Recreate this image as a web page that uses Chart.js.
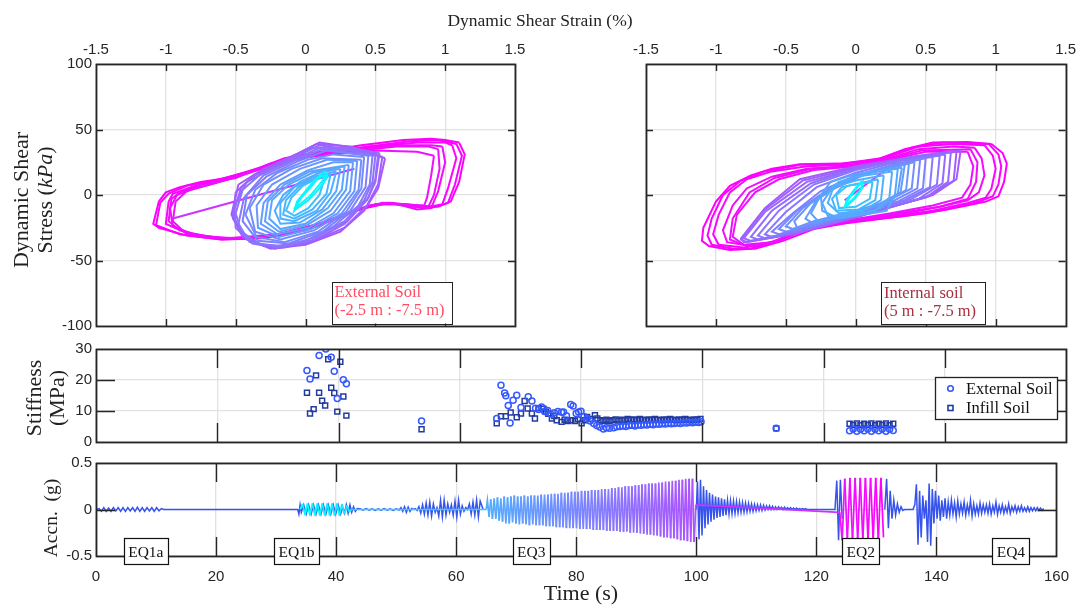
<!DOCTYPE html>
<html><head><meta charset="utf-8">
<script src="https://cdn.jsdelivr.net/npm/chart.js@4.4.1/dist/chart.umd.min.js"></script>
<style>
html,body{margin:0;padding:0;background:#fff;}
#wrap{position:relative;width:1081px;height:608px;overflow:hidden;background:#fff;}
canvas{position:absolute;left:0;}
</style></head><body><div id="wrap">
<canvas id="cTopL" width="1081" height="345" style="top:0"></canvas>
<canvas id="cTopR" width="1081" height="345" style="top:0"></canvas>
<canvas id="cMid" width="1081" height="120" style="top:335px"></canvas>
<canvas id="cBot" width="1081" height="158" style="top:450px"></canvas>
</div>
<script>
// ---------------- DATA ----------------
// tick labels
const strainTicks = [-1.5,-1,-0.5,0,0.5,1,1.5];
const stressTicks = [-100,-50,0,50,100];
const timeTicks = [0,20,40,60,80,100,120,140,160];
const stiffTicks = [0,10,20,30];
const accTicks = [-0.5,0,0.5];

// Hysteresis loops: time (s) of each loop (sets colour) and loop vertices [strain %, stress kPa, ...]
const extLoopTimes = [36,39,58,62,64,66,68,70,72,74,77,79,82,85,88,90,93,96,98,112,125,126,127,129,130,131];
const extLoopPts = [
 [-0.05,-8, 0.03,-1, 0.1,8, 0.15,15, 0.1,14, 0.03,5, -0.03,-2, -0.07,-9, -0.05,-8],
 [-0.06,-10, 0.02,-4, 0.1,5, 0.16,14, 0.14,18, 0.07,12, 0.0,3, -0.06,-5, -0.08,-12, -0.06,-10],
 [0.14,14, 0.1,0, 0.02,-10, -0.08,-16, -0.14,-12, -0.1,-2, -0.02,7, 0.07,12, 0.14,14],
 [0.18,16, 0.15,1, 0.05,-11, -0.08,-18, -0.16,-15, -0.14,-4, -0.05,6, 0.07,13, 0.18,16],
 [0.22,18, 0.18,2, 0.08,-12, -0.08,-20, -0.18,-18, -0.18,-6, -0.08,6, 0.06,14, 0.22,18],
 [0.25,20, 0.22,3, 0.12,-11, -0.04,-21, -0.18,-22, -0.22,-12, -0.16,0, -0.04,10, 0.1,17, 0.25,20],
 [0.28,22, 0.26,4, 0.16,-10, 0.0,-22, -0.18,-26, -0.26,-18, -0.24,-4, -0.12,8, 0.05,17, 0.28,22],
 [0.31,23, 0.29,4, 0.18,-12, 0.01,-23, -0.19,-28, -0.29,-20, -0.27,-5, -0.15,8, 0.03,18, 0.31,23],
 [0.34,25, 0.32,3, 0.2,-14, 0.02,-25, -0.2,-30, -0.32,-22, -0.3,-6, -0.18,8, 0.02,19, 0.2,25, 0.34,25],
 [0.37,26, 0.35,3, 0.23,-14, 0.04,-26, -0.19,-32, -0.34,-25, -0.35,-8, -0.24,8, -0.04,20, 0.16,27, 0.37,26],
 [0.4,27, 0.38,4, 0.26,-14, 0.06,-27, -0.18,-34, -0.36,-28, -0.4,-10, -0.3,8, -0.1,20, 0.12,28, 0.4,27],
 [0.42,29, 0.4,5, 0.29,-13, 0.09,-28, -0.15,-36, -0.35,-32, -0.43,-15, -0.36,4, -0.2,17, 0.02,27, 0.2,31, 0.42,29],
 [0.45,30, 0.43,6, 0.32,-12, 0.12,-28, -0.12,-37, -0.34,-35, -0.45,-20, -0.42,0, -0.28,14, -0.05,26, 0.15,34, 0.45,30],
 [0.48,30, 0.46,8, 0.38,-8, 0.2,-24, 0.0,-35, -0.2,-39, -0.4,-36, -0.48,-22, -0.44,-2, -0.3,15, -0.08,26, 0.12,35, 0.48,30],
 [0.5,30, 0.48,10, 0.42,-4, 0.28,-20, 0.08,-32, -0.15,-39, -0.32,-38, -0.46,-28, -0.5,-14, -0.45,4, -0.32,16, -0.1,26, 0.1,36, 0.32,34, 0.5,30],
 [0.53,32, 0.5,10, 0.44,-4, 0.28,-22, 0.05,-35, -0.2,-40, -0.38,-37, -0.5,-25, -0.51,-8, -0.42,10, -0.2,22, 0.05,36, 0.3,36, 0.53,32],
 [0.52,31, 0.5,12, 0.45,-2, 0.3,-20, 0.1,-33, -0.15,-40, -0.3,-39, -0.46,-29, -0.52,-15, -0.46,6, -0.36,15, -0.15,25, 0.1,38, 0.3,35, 0.52,31],
 [0.55,29, 0.52,8, 0.44,-8, 0.28,-25, 0.04,-36, -0.22,-41, -0.42,-34, -0.52,-18, -0.5,2, -0.36,16, -0.1,29, 0.08,39, 0.32,37, 0.55,29],
 [0.57,28, 0.52,5, 0.42,-12, 0.25,-28, 0.0,-38, -0.25,-41, -0.45,-32, -0.53,-15, -0.48,8, -0.3,20, -0.05,32, 0.1,40, 0.35,36, 0.57,28],
 [0.35,20, -0.95,-18],
 [0.92,30, 0.9,15, 0.87,-2, 0.85,-8, 0.7,-7, 0.55,-6, 0.35,-12, 0.1,-22, -0.2,-30, -0.55,-33, -0.85,-30, -0.95,-20, -0.93,-5, -0.85,3, -0.65,9, -0.4,17, -0.15,26, 0.15,31, 0.5,34, 0.8,33, 0.92,30],
 [0.95,35, 0.96,20, 0.92,0, 0.88,-9, 0.75,-9, 0.58,-6, 0.4,-10, 0.15,-20, -0.12,-29, -0.45,-33, -0.75,-32, -0.95,-24, -0.97,-10, -0.92,0, -0.8,5, -0.58,11, -0.3,21, 0.0,29, 0.3,33, 0.65,37, 0.88,37, 0.95,35],
 [0.98,37, 1.0,25, 0.95,3, 0.9,-10, 0.8,-11, 0.62,-6, 0.45,-9, 0.2,-18, -0.05,-28, -0.35,-33, -0.65,-33, -0.9,-27, -0.98,-20, -0.96,-3, -0.9,2, -0.75,8, -0.5,13, -0.25,24, 0.05,30, 0.35,35, 0.7,38, 0.9,38, 0.98,37],
 [1.05,38, 1.08,28, 1.02,5, 0.98,-7, 0.85,-10, 0.65,-7, 0.5,-7, 0.3,-14, 0.05,-25, -0.3,-32, -0.6,-33, -0.85,-29, -1.0,-22, -0.98,-5, -0.95,1, -0.82,6, -0.6,12, -0.35,20, -0.1,27, 0.2,33, 0.5,37, 0.8,40, 1.0,40, 1.05,38],
 [1.08,39, 1.12,30, 1.07,8, 1.02,-6, 0.9,-10, 0.72,-7, 0.55,-7, 0.35,-12, 0.1,-22, -0.25,-32, -0.6,-34, -0.9,-30, -1.07,-23, -1.04,-6, -0.98,1, -0.85,7, -0.65,11, -0.4,18, -0.2,25, 0.1,32, 0.45,37, 0.75,41, 0.95,42, 1.08,39],
 [1.1,40, 1.14,31, 1.1,10, 1.04,-5, 0.95,-9, 0.8,-8, 0.6,-6, 0.45,-8, 0.25,-17, 0.0,-27, -0.3,-33, -0.6,-34, -0.85,-31, -1.05,-25, -1.09,-22, -1.05,-5, -1.0,2, -0.9,6, -0.75,10, -0.5,14, -0.3,22, -0.15,28, 0.1,33, 0.4,38, 0.7,42, 0.9,43, 1.0,42, 1.1,40]
];
const intLoopTimes = [36,39,58,62,64,66,68,70,72,74,77,80,82,85,87,90,92,95,97,112,125,126,127,129,130,131];
const intLoopPts = [
 [-0.06,-7, -0.01,-2, 0.04,5, 0.05,10, 0.01,6, -0.03,0, -0.07,-6, -0.06,-7],
 [-0.06,-8, 0.0,-2, 0.05,6, 0.04,10, -0.01,4, -0.06,-3, -0.08,-9, -0.06,-8],
 [0.12,10, 0.1,-3, 0.0,-9, -0.12,-10, -0.14,0, -0.06,7, 0.12,10],
 [0.16,12, 0.14,-4, 0.02,-11, -0.14,-12, -0.17,-3, -0.1,6, 0.16,12],
 [0.2,15, 0.18,-4, 0.05,-12, -0.12,-14, -0.2,-6, -0.16,6, 0.0,11, 0.2,15],
 [0.26,18, 0.24,-2, 0.14,-12, -0.04,-15, -0.2,-16, -0.24,-6, -0.16,7, 0.0,14, 0.26,18],
 [0.3,20, 0.28,0, 0.22,-12, 0.05,-15, -0.12,-18, -0.24,-12, -0.25,0, -0.18,10, 0.0,16, 0.3,20],
 [0.33,21, 0.3,1, 0.18,-10, -0.05,-16, -0.27,-20, -0.32,-14, -0.26,-2, -0.12,10, 0.1,17, 0.33,21],
 [0.35,23, 0.32,2, 0.15,-8, -0.1,-16, -0.3,-22, -0.36,-18, -0.28,-4, -0.1,10, 0.12,18, 0.35,23],
 [0.38,24, 0.36,4, 0.2,-7, -0.05,-14, -0.3,-21, -0.42,-25, -0.44,-20, -0.32,-6, -0.12,8, 0.1,17, 0.38,24],
 [0.42,25, 0.4,5, 0.22,-5, 0.0,-12, -0.3,-20, -0.45,-26, -0.5,-24, -0.38,-10, -0.15,5, 0.05,15, 0.25,22, 0.42,25],
 [0.46,27, 0.44,5, 0.26,-5, 0.0,-13, -0.3,-22, -0.5,-28, -0.55,-26, -0.42,-12, -0.2,4, 0.0,15, 0.28,23, 0.46,27],
 [0.5,28, 0.48,5, 0.3,-5, 0.0,-14, -0.3,-23, -0.55,-30, -0.6,-28, -0.45,-14, -0.25,3, 0.0,15, 0.3,24, 0.5,28],
 [0.55,29, 0.53,6, 0.35,-4, 0.0,-15, -0.32,-25, -0.6,-32, -0.65,-30, -0.5,-13, -0.28,6, 0.0,17, 0.32,26, 0.55,29],
 [0.6,30, 0.58,8, 0.4,-3, 0.0,-15, -0.35,-26, -0.65,-33, -0.7,-31, -0.55,-12, -0.3,8, 0.0,19, 0.35,27, 0.6,30],
 [0.64,31, 0.62,9, 0.45,-3, 0.0,-16, -0.38,-27, -0.7,-34, -0.75,-32, -0.6,-12, -0.32,9, 0.0,20, 0.38,28, 0.64,31],
 [0.68,33, 0.66,10, 0.5,-2, 0.0,-16, -0.4,-28, -0.75,-35, -0.8,-33, -0.65,-13, -0.35,10, 0.0,20, 0.4,29, 0.68,33],
 [0.72,33, 0.7,11, 0.52,-1, 0.0,-17, -0.42,-29, -0.78,-36, -0.82,-34, -0.66,-12, -0.38,11, 0.0,21, 0.42,29, 0.72,33],
 [0.75,34, 0.72,12, 0.55,0, 0.0,-17, -0.45,-30, -0.8,-36, -0.82,-33, -0.65,-10, -0.4,12, 0.0,22, 0.45,30, 0.75,34],
 [-0.08,-4, 0.3,26],
 [0.8,33, 0.84,22, 0.82,8, 0.76,-2, 0.55,-8, 0.25,-14, -0.1,-20, -0.4,-27, -0.6,-36, -0.8,-38, -0.88,-32, -0.85,-15, -0.72,2, -0.55,12, -0.3,19, 0.0,22, 0.25,27, 0.5,33, 0.8,33],
 [0.82,35, 0.87,25, 0.86,10, 0.8,-3, 0.6,-9, 0.3,-14, -0.05,-20, -0.38,-27, -0.58,-36, -0.78,-39, -0.9,-34, -0.88,-18, -0.76,2, -0.58,13, -0.32,20, -0.02,22, 0.22,27, 0.47,34, 0.82,35],
 [0.85,36, 0.9,28, 0.92,15, 0.88,2, 0.8,-4, 0.6,-9, 0.3,-15, -0.05,-20, -0.35,-26, -0.55,-35, -0.75,-39, -0.92,-36, -0.95,-27, -0.88,-8, -0.78,5, -0.6,14, -0.35,20, -0.05,22, 0.2,27, 0.45,35, 0.7,37, 0.85,36],
 [0.92,38, 0.98,30, 1.0,20, 0.97,5, 0.93,-2, 0.8,-6, 0.55,-12, 0.2,-17, -0.15,-22, -0.4,-28, -0.6,-37, -0.8,-40, -0.98,-38, -1.02,-30, -0.98,-15, -0.9,2, -0.78,12, -0.6,18, -0.35,22, -0.05,23, 0.2,28, 0.45,37, 0.7,39, 0.92,38],
 [0.95,39, 1.02,31, 1.04,22, 1.02,8, 0.98,-1, 0.88,-5, 0.65,-11, 0.35,-16, 0.0,-20, -0.3,-26, -0.52,-35, -0.72,-41, -0.88,-41, -1.03,-38, -1.06,-31, -1.03,-18, -0.95,0, -0.82,11, -0.65,18, -0.4,23, -0.08,24, 0.18,28, 0.4,36, 0.62,40, 0.95,39],
 [0.97,39, 1.05,32, 1.08,24, 1.06,10, 1.02,-1, 0.93,-5, 0.75,-9, 0.5,-14, 0.2,-18, -0.1,-22, -0.35,-26, -0.55,-34, -0.75,-41, -0.9,-42, -1.05,-39, -1.1,-35, -1.09,-25, -1.0,-5, -0.9,7, -0.75,15, -0.6,20, -0.4,23.5, -0.1,24, 0.15,27, 0.35,35, 0.55,40, 0.8,40.5, 0.97,39]
];

// Stiffness (MPa) vs time (s)
const extStiffT = [34.8,35.3,36.8,37.9,38.8,39.3,39.8,40.8,41.3,53.7,
 66.1,66.8,67.4,67.6,68.0,68.3,68.8,69.4,70.1,71.3,71.9,72.5,73.0,73.5,74.0,74.5,75.0,75.6,76.2,76.8,77.1,77.6,78.3,78.7,79.2,79.6,80.0,80.5,81.0,81.5,82.1,82.6,83.1,83.7,84.2,84.7,85.4,85.9,86.4,86.9,87.4,87.9,88.4,88.9,89.4,89.9,90.4,90.9,91.4,91.9,92.4,92.9,93.4,93.9,94.4,94.9,95.4,95.9,96.4,96.9,97.4,97.9,98.4,98.9,99.4,99.8,
 112.2,124.3,124.9,125.5,126.1,126.7,127.3,127.9,128.5,129.1,129.7,130.3,130.9,131.5];
const extStiffK = [23.1,20.3,27.9,30.0,27.3,22.8,14.0,20.1,18.8,6.8,
 7.6,18.3,15.8,14.9,11.8,6.1,13.5,15.1,11.1,14.6,13.2,10.9,10.5,11.3,9.8,10.2,9.0,9.4,9.8,9.6,9.7,8.5,12.1,11.6,9.2,9.7,9.9,8.2,7.5,6.8,6.0,5.3,4.8,4.2,4.6,4.4,4.6,4.9,5.0,5.2,5.0,5.3,5.4,5.2,5.5,5.4,5.6,5.5,5.7,5.6,5.8,5.7,5.9,5.8,6.0,5.9,6.0,6.1,6.0,6.2,6.1,6.3,6.2,6.4,6.3,6.5,
 4.4,3.6,4.2,3.5,4.1,3.6,4.2,3.5,4.1,3.6,4.2,3.5,4.1,3.7];
const infStiffT = [34.8,35.3,35.9,36.3,36.8,37.3,37.8,38.3,38.8,39.3,39.8,40.3,40.8,41.3,53.7,
 66.1,66.8,67.6,68.4,69.4,70.1,70.7,71.2,71.9,72.4,73.0,73.8,74.2,74.6,75.2,75.6,76.0,76.8,77.3,77.8,78.4,79.0,79.5,80.1,80.6,81.0,81.6,82.3,82.7,83.2,83.7,84.2,84.7,85.2,85.7,86.2,86.7,87.2,87.7,88.2,88.7,89.2,89.7,90.2,90.7,91.2,91.7,92.2,92.7,93.2,93.7,94.2,94.7,95.2,95.7,96.2,96.7,97.2,97.7,98.2,98.7,99.2,99.7,
 112.2,124.3,124.9,125.5,126.1,126.7,127.3,127.9,128.5,129.1,129.7,130.3,130.9,131.5];
const infStiffK = [15.9,9.2,10.6,21.5,15.9,13.3,11.8,26.7,17.5,15.8,9.8,25.9,14.7,8.5,4.1,
 6.0,8.3,8.3,9.5,8.0,9.2,13.2,10.8,9.2,7.6,10.9,10.7,9.8,9.1,7.6,8.4,7.0,6.5,7.2,6.8,7.0,6.8,7.3,6.0,7.0,8.1,7.4,8.6,7.6,7.0,6.8,7.2,6.7,7.0,7.3,6.9,7.2,7.0,7.4,7.1,7.3,7.0,7.4,7.2,7.0,7.3,7.1,7.4,7.2,7.0,7.3,7.1,7.4,7.2,7.0,7.3,7.1,7.4,7.2,7.0,7.3,7.2,7.4,
 4.4,5.9,5.5,6.0,5.4,5.9,5.5,6.0,5.4,5.9,5.5,6.0,5.4,5.9];

// Acceleration (g): successive peak values of each record segment (start time, step between peaks)
const blueEQ1a = [0.01,-0.02,0.02,-0.02,0.015,-0.02,0.02,-0.015,0.02,-0.02,0.02,-0.02,0.02,-0.015,0.02,-0.02,0.025,-0.02,0.02,-0.02,0.02,-0.015,0.02,-0.02,0.02,-0.015,0.01];
const blueEQ1bOnset = [-0.05,0.05,-0.03];
const blueEQ1b = [0.05,-0.05,0.05,-0.05,0.05,-0.05,0.05,-0.05,0.05,-0.05,0.05,-0.05,0.05,-0.05,0.05,-0.05];
const blueEQ1bTail = [0.02,-0.04,0.05,-0.04,0.05,-0.03,0.03,-0.02,0.01];
const blueQuiet = [0.008,-0.008,0.01,-0.006,0.008,-0.01,0.006,-0.008,0.01,-0.008,0.006,-0.01,0.008,-0.006];
const blueEQ3Pre = [0.02,-0.02,0.03,-0.03,0.025,-0.02,0.01,0,0.01,-0.01,0.03,-0.04,0.05,-0.05,0.07,-0.06,0.08,-0.07,0.06,-0.03,0.02,-0.07,0.1,-0.08,0.1,-0.06,0.06,-0.03,0.05,-0.06,0.09,-0.08,0.1,-0.05,0.04,-0.02,0.02,0,0.06,-0.05,0.08,-0.06,0.1,-0.08,0.09];
const blueEQ3Post = [0.3,-0.32,0.32,-0.28,0.25,-0.2,0.21,-0.16,0.18,-0.13,0.16,-0.11,0.14,-0.09,0.13,-0.08,0.12,-0.07,0.11,-0.06,0.1,-0.05,0.095,-0.045,0.09,-0.04,0.085,-0.035,0.08,-0.03,0.075,-0.03,0.07,-0.025,0.065,-0.02,0.06,-0.02,0.055,-0.015,0.05,-0.01,0.05,-0.01,0.045,-0.005,0.04,0,0.04,0,0.035,0,0.03,0,0.03,0.005,0.025,0,0.025,0,0.02,0,0.02,0,0.015,0,0.015,0,0.01,0,0.01,0,0.01,0];
const blueEQ2Onset = [0.0,0.31,-0.33,0.32,-0.1];
const blueEQ2Tail = [0.0,0.33,-0.2,0.2,-0.1,0.1,-0.06,0.06,-0.03,0.03,-0.01,0.0];
const blueEQ4 = [0.05,0.27,-0.38,0.2,-0.3,0.15,-0.1,0.1,-0.35,0.28,-0.39,0.22,-0.15,0.2,-0.1,0.15,-0.12,0.1,-0.08,0.12,-0.1,0.08,-0.06,0.1,-0.05,0.07,-0.08,0.09,-0.05,0.06,-0.04,0.08,-0.06,0.05,-0.04,0.1,-0.07,0.06,-0.05,0.04,-0.05,0.07,-0.04,0.05,-0.03,0.05,-0.04,0.06,-0.05,0.04,-0.03,0.08,-0.05,0.04,-0.03,0.05,-0.04,0.03,-0.03,0.06,-0.04,0.03,-0.02,0.04,-0.03,0.03,-0.02,0.04,-0.02,0.02,-0.02,0.03,-0.02,0.02,-0.015,0.02,-0.015,0.02,-0.01,0.015,-0.01,0.01];
const colEQ1b = [0,0.06,-0.06,0.065,-0.065,0.065,-0.065,0.065,-0.065,0.065,-0.065,0.065,-0.065,0.065,-0.065,0.065,-0.065,0.06,-0.05,0.045,-0.03,0];
const colEQ3 = [0.1,-0.08,0.11,-0.1,0.12,-0.1,0.13,-0.12,0.12,-0.13,
 0.14,-0.15,0.13,-0.15,0.14,-0.14,0.15,-0.15,0.14,-0.16,
 0.14,-0.15,0.15,-0.16,0.14,-0.17,0.15,-0.16,0.15,-0.17,
 0.15,-0.17,0.16,-0.17,0.16,-0.18,0.16,-0.18,0.17,-0.18,
 0.17,-0.19,0.17,-0.19,0.18,-0.19,0.18,-0.2,0.18,-0.2,
 0.19,-0.2,0.19,-0.2,0.19,-0.21,0.2,-0.21,0.2,-0.21,
 0.2,-0.21,0.21,-0.22,0.21,-0.22,0.21,-0.22,0.22,-0.22,
 0.22,-0.23,0.22,-0.23,0.23,-0.23,0.23,-0.23,0.24,-0.24,
 0.24,-0.24,0.25,-0.24,0.25,-0.25,0.25,-0.25,0.26,-0.25,
 0.26,-0.26,0.27,-0.26,0.27,-0.27,0.28,-0.27,0.28,-0.28,
 0.28,-0.28,0.29,-0.29,0.29,-0.3,0.3,-0.3,0.3,-0.31,
 0.31,-0.31,0.31,-0.32,0.32,-0.33,0.32,-0.33,0.33,-0.34,
 0.33,-0.35,0.33,-0.35,0.05];
const colEQ2 = [-0.33,0.33,-0.33,0.34,-0.33,0.34,-0.33,0.34,-0.33,0.34,-0.33,0.34,-0.33,0.34,-0.33,0.34,-0.3];

const eqNames = ['EQ1a','EQ1b','EQ3','EQ2','EQ4'];
const eqTimes = [8.3,33.4,72.5,127.4,152.4];

// ---------------- HELPERS ----------------
const SANS = '"Liberation Sans", Arial, sans-serif';
const SERIF = '"Liberation Serif", "Times New Roman", serif';
const cool = c => { c = Math.max(0, Math.min(1, c)); return `rgb(${Math.round(255*c)},${Math.round(255*(1-c))},255)`; };
const tColor = t => cool((t - 34) / (131 - 34));
const toXY = flat => { const o=[]; for (let i=0;i<flat.length;i+=2) o.push({x:flat[i], y:flat[i+1]}); return o; };
const seg = (t0, dt, vals) => vals.map((v,i)=>({x:+(t0+i*dt).toFixed(3), y:v}));
const fixTicks = arr => (s => { s.ticks = arr.map(v=>({value:v})); });

const frame = {
  id:'frame',
  afterDatasetsDraw(chart, args, o){
    const {ctx, chartArea:a, scales} = chart;
    ctx.save();
    ctx.strokeStyle = '#262626';
    ctx.lineWidth = 1.4;
    ctx.beginPath();
    const L = o.len || 7;
    for (const t of scales.x.ticks){
      const p = Math.round(scales.x.getPixelForValue(t.value)) + 0.5;
      if (p <= a.left + 2 || p >= a.right - 2) continue;
      ctx.moveTo(p, a.top); ctx.lineTo(p, a.top + L);
      ctx.moveTo(p, a.bottom); ctx.lineTo(p, a.bottom - L);
    }
    for (const t of scales.y.ticks){
      const p = Math.round(scales.y.getPixelForValue(t.value)) + 0.5;
      if (p <= a.top + 2 || p >= a.bottom - 2) continue;
      ctx.moveTo(a.left, p); ctx.lineTo(a.left + L, p);
      ctx.moveTo(a.right, p); ctx.lineTo(a.right - L, p);
    }
    ctx.stroke();
    ctx.lineWidth = 1.8;
    ctx.strokeRect(Math.round(a.left)+0.5, Math.round(a.top)+0.5, Math.round(a.right-a.left), Math.round(a.bottom-a.top));
    ctx.restore();
  }
};

const texts = {
  id:'texts',
  afterDraw(chart, args, o){
    const ctx = chart.ctx;
    for (const b of (o.boxes||[])){
      ctx.save();
      ctx.fillStyle = '#fff'; ctx.fillRect(b.x, b.y, b.w, b.h);
      ctx.strokeStyle = b.color || '#222'; ctx.lineWidth = 1;
      ctx.strokeRect(Math.round(b.x)+0.5, Math.round(b.y)+0.5, Math.round(b.w), Math.round(b.h));
      ctx.restore();
    }
    for (const it of (o.items||[])){
      ctx.save();
      ctx.translate(it.x, it.y);
      if (it.rot) ctx.rotate(it.rot);
      ctx.textBaseline = 'alphabetic';
      ctx.fillStyle = it.color || '#111';
      const runs = it.runs || [[it.text, it.font]];
      const ws = runs.map(r => { ctx.font = r[1] || it.font; return ctx.measureText(r[0]).width; });
      const total = ws.reduce((s,w)=>s+w,0);
      let x = it.align === 'left' ? 0 : -total/2;
      runs.forEach((r,i)=>{ ctx.font = r[1] || it.font; ctx.fillText(r[0], x, 0); x += ws[i]; });
      ctx.restore();
    }
  }
};

const grid = { color:'#e2e2e2', lineWidth:1.3, drawTicks:false };
const tickFont = { family: SANS, size: 15 };

function loopDatasets(times, pts){
  return times.map((t,i)=>({
    data: toXY(pts[i]), borderColor: tColor(t), borderWidth: 2,
    showLine:true, pointRadius:0, fill:false, tension:0
  }));
}

function topChart(id, times, pts, yWidth, padRight, showYLabels, items, boxes){
  return new Chart(document.getElementById(id), {
    type:'scatter',
    data:{ datasets: loopDatasets(times, pts) },
    options:{
      responsive:false, animation:false, events:[],
      layout:{ padding:{ left:0, top:0, right:padRight, bottom:19 } },
      plugins:{ legend:{display:false}, tooltip:{enabled:false}, frame:{len:7}, texts:{items, boxes} },
      scales:{
        x:{ type:'linear', position:'top', min:-1.5, max:1.5, afterBuildTicks: fixTicks(strainTicks),
            afterFit: s => { s.height = 64; },
            grid, border:{display:false},
            ticks:{ font:tickFont, color:'#262626', padding:5, maxRotation:0, callback: v => String(v) } },
        y:{ type:'linear', min:-100, max:100, afterBuildTicks: fixTicks(stressTicks),
            afterFit: s => { s.width = yWidth; },
            grid, border:{display:false},
            ticks:{ display: showYLabels, font:tickFont, color:'#262626', padding:4, callback: v => String(v) } }
      }
    },
    plugins:[frame, texts]
  });
}

// ---------------- TOP CHARTS ----------------
topChart('cTopL', extLoopTimes, extLoopPts, 96, 566, true,
  [
    { text:'Dynamic Shear Strain (%)', x:540, y:26, font:`17.5px ${SERIF}`, color:'#222' },
    { text:'Dynamic Shear', x:28, y:200, rot:-Math.PI/2, font:`22px ${SERIF}`, color:'#222' },
    { runs:[['Stress (', `22px ${SERIF}`],['kPa', `italic 22px ${SERIF}`],[')', `22px ${SERIF}`]], x:52, y:200, rot:-Math.PI/2, color:'#222' },
    { text:'External Soil', x:334.5, y:297, align:'left', font:`16.5px ${SERIF}`, color:'#ff4d63' },
    { text:'(-2.5 m : -7.5 m)', x:334.5, y:315, align:'left', font:`16.5px ${SERIF}`, color:'#ff4d63' }
  ],
  [ { x:331.5, y:281.5, w:119.5, h:42 } ]
);
topChart('cTopR', intLoopTimes, intLoopPts, 646, 15, false,
  [
    { text:'Internal soil', x:884, y:298, align:'left', font:`16.5px ${SERIF}`, color:'#a8303c' },
    { text:'(5 m : -7.5 m)', x:884, y:316, align:'left', font:`16.5px ${SERIF}`, color:'#a8303c' }
  ],
  [ { x:881, y:282, w:103.5, h:42 } ]
);

// ---------------- STIFFNESS ----------------
const legendPlugin = {
  id:'stiffLegend',
  afterDraw(chart){
    const ctx = chart.ctx;
    ctx.save();
    ctx.fillStyle = '#fff'; ctx.fillRect(935, 42, 122, 42);
    ctx.strokeStyle = '#222'; ctx.lineWidth = 1.3; ctx.strokeRect(935.5, 42.5, 122, 42);
    ctx.lineWidth = 1.6;
    ctx.strokeStyle = '#3558ff';
    ctx.beginPath(); ctx.arc(950.5, 53.5, 2.8, 0, Math.PI*2); ctx.stroke();
    ctx.strokeStyle = '#233a9e';
    ctx.strokeRect(948, 70.5, 5, 5);
    ctx.fillStyle = '#111'; ctx.font = `16.5px ${SERIF}`; ctx.textBaseline = 'alphabetic';
    ctx.fillText('External Soil', 966, 58.5);
    ctx.fillText('Infill Soil', 966, 77.5);
    ctx.restore();
  }
};
new Chart(document.getElementById('cMid'), {
  type:'scatter',
  data:{ datasets:[
    { label:'External Soil', data: extStiffT.map((t,i)=>({x:t, y:extStiffK[i]})), pointStyle:'circle', pointRadius:3, borderWidth:1.5, borderColor:'#3558ff', backgroundColor:'rgba(0,0,0,0)' },
    { label:'Infill Soil', data: infStiffT.map((t,i)=>({x:t, y:infStiffK[i]})), pointStyle:'rect', pointRadius:3.5, borderWidth:1.5, borderColor:'#233a9e', backgroundColor:'rgba(0,0,0,0)' }
  ]},
  options:{
    responsive:false, animation:false, events:[],
    layout:{ padding:{ left:0, top:14, right:15, bottom:11 } },
    plugins:{ legend:{display:false}, tooltip:{enabled:false}, frame:{len:19},
      texts:{ items:[
        { text:'Stiffness', x:41, y:63, rot:-Math.PI/2, font:`22px ${SERIF}`, color:'#222' },
        { text:'(MPa)', x:64, y:63, rot:-Math.PI/2, font:`22px ${SERIF}`, color:'#222' }
      ] } },
    scales:{
      x:{ type:'linear', min:0, max:160, afterBuildTicks: fixTicks(timeTicks), afterFit: s => { s.height = 0; },
          grid, border:{display:false}, ticks:{ display:false } },
      y:{ type:'linear', min:0, max:30, afterBuildTicks: fixTicks(stiffTicks), afterFit: s => { s.width = 96; },
          grid, border:{display:false}, ticks:{ font:tickFont, color:'#262626', padding:4, callback: v => String(v) } }
    }
  },
  plugins:[frame, texts, legendPlugin]
});

// ---------------- ACCELERATION ----------------
const basePts = [
  {x:0,y:0}, ...seg(0.5,0.4,blueEQ1a), {x:11.3,y:0}, {x:33.6,y:0},
  ...seg(33.8,0.2,blueEQ1bOnset), ...seg(34.6,0.41,blueEQ1b), ...seg(41.1,0.3,blueEQ1bTail),
  ...seg(44.0,0.5,blueQuiet), ...seg(50.8,0.3,blueEQ3Pre), {x:64.5,y:0}, {x:65,y:null},
  {x:100.0,y:0}, ...seg(100.2,0.25,blueEQ3Post), {x:120,y:0},
  ...seg(123.1,0.3,blueEQ2Onset), {x:124.6,y:null},
  ...seg(131.4,0.3,blueEQ2Tail), {x:136.1,y:0}, ...seg(136.4,0.265,blueEQ4)
];
const colPts = [
  ...seg(34.0,0.41,colEQ1b), {x:65.0,y:0}, ...seg(65.2,0.28,colEQ3), {x:123.9,y:-0.03}, ...seg(124.3,0.43,colEQ2)
];
const eqPlugin = {
  id:'eqLabels',
  afterDraw(chart){
    const ctx = chart.ctx, xs = chart.scales.x;
    ctx.save();
    ctx.font = `15.5px ${SERIF}`;
    ctx.textBaseline = 'alphabetic';
    eqNames.forEach((n,i)=>{
      const cx = xs.getPixelForValue(eqTimes[i]);
      const w = ctx.measureText(n).width + 9;
      const x = Math.round(cx - w/2);
      ctx.fillStyle = '#fff'; ctx.fillRect(x, 88, w, 26);
      ctx.strokeStyle = '#111'; ctx.lineWidth = 1.2; ctx.strokeRect(x+0.5, 88.5, Math.round(w), 26);
      ctx.fillStyle = '#111'; ctx.textAlign = 'center';
      ctx.fillText(n, cx, 106.5);
    });
    ctx.restore();
  }
};
new Chart(document.getElementById('cBot'), {
  type:'scatter',
  data:{ datasets:[
    { data: colPts, showLine:true, pointRadius:0, borderWidth:1.7, borderColor:'#00ffff', spanGaps:false,
      segment:{ borderColor: c => tColor((colPts[c.p0DataIndex].x + colPts[c.p1DataIndex].x)/2) } },
    { data: basePts, showLine:true, pointRadius:0, borderWidth:1.5, borderColor:'#3653ee', spanGaps:false }
  ]},
  options:{
    responsive:false, animation:false, events:[],
    layout:{ padding:{ left:0, top:13, right:15, bottom:0 } },
    plugins:{ legend:{display:false}, tooltip:{enabled:false}, frame:{len:19},
      texts:{ items:[
        { text:'Accn.  (g)', x:57, y:68, rot:-Math.PI/2, font:`19.5px ${SERIF}`, color:'#222' },
        { text:'Time (s)', x:581, y:150, font:`22px ${SERIF}`, color:'#222' }
      ] } },
    scales:{
      x:{ type:'linear', min:0, max:160, afterBuildTicks: fixTicks(timeTicks), afterFit: s => { s.height = 52; },
          grid, border:{display:false}, ticks:{ font:tickFont, color:'#262626', padding:12, maxRotation:0, callback: v => String(v) } },
      y:{ type:'linear', min:-0.5, max:0.5, afterBuildTicks: fixTicks(accTicks), afterFit: s => { s.width = 96; },
          grid, border:{display:false}, ticks:{ font:tickFont, color:'#262626', padding:4, callback: v => String(v) } }
    }
  },
  plugins:[frame, texts, eqPlugin]
});
</script></body></html>
